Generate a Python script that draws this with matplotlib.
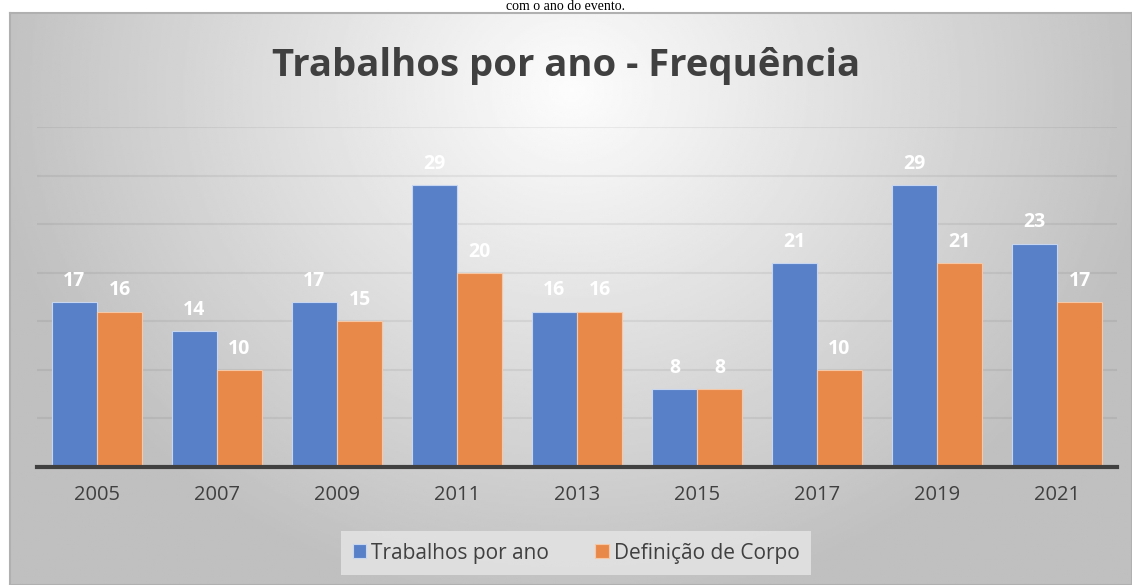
import numpy as np
import matplotlib.pyplot as plt

# data
anos = ['2005', '2007', '2009', '2011', '2013', '2015', '2017', '2019', '2021']
trabalhos = [17, 14, 17, 29, 16, 8, 21, 29, 23]
definicao = [16, 10, 15, 20, 16, 8, 10, 21, 17]

azul = '#5880C8'
laranja = '#E8894A'
cinza_txt = '#404040'

fig = plt.figure(figsize=(11.32, 5.85), dpi=100)

# caption from the page above the chart
fig.text(0.5, 1.0, 'com o ano do evento.', ha='center', va='top',
         family='Liberation Serif', fontsize=10, color='black')

# chart frame with radial gradient background
bg = fig.add_axes([10/1132, 0, 1 - 10/1132, 1 - 13/585])
yy, xx = np.mgrid[0:300, 0:600]
r = np.sqrt(((xx - 300) / 300.0) ** 2 + ((yy - 40) / 260.0) ** 2)
r = np.clip(r / 1.05, 0, 1)
shade = 0.99 - 0.24 * r
bg.imshow(shade, cmap='gray', vmin=0, vmax=1, aspect='auto', origin='upper',
          extent=[0, 1, 0, 1])
bg.set_xlim(0, 1)
bg.set_ylim(0, 1)
bg.set_xticks([])
bg.set_yticks([])
for s in bg.spines.values():
    s.set_color('#b0b0b0')
    s.set_linewidth(1.5)

ax = fig.add_axes([37/1132, 118/585, 1080/1132, 340/585])
ax.patch.set_alpha(0)
x = np.arange(len(anos))
w = 0.375
b1 = ax.bar(x - w/2, trabalhos, w, color=azul, edgecolor='#c8d6f0', linewidth=0.8, zorder=3)
b2 = ax.bar(x + w/2, definicao, w, color=laranja, edgecolor='#f5c9a8', linewidth=0.8, zorder=3)

for bars in (b1, b2):
    for b in bars:
        ax.annotate(str(int(b.get_height())), (b.get_x() + b.get_width()/2, b.get_height()),
                    xytext=(0, 8), textcoords='offset points', ha='center', va='bottom',
                    color='white', fontsize=14, fontweight='bold', family='Open Sans')

ax.set_xlim(-0.5, len(anos) - 0.5)
ax.set_ylim(0, 35)
ax.set_yticks(np.arange(5, 36, 5))
ax.yaxis.grid(True, color='black', alpha=0.06, linewidth=1.5, zorder=0)
ax.tick_params(axis='y', left=False, labelleft=False)
ax.tick_params(axis='x', length=0, pad=13, labelsize=14.5, labelcolor=cinza_txt)
ax.set_xticks(x)
ax.set_xticklabels(anos, family='Open Sans')
for s in ['top', 'right', 'left']:
    ax.spines[s].set_visible(False)
ax.spines['bottom'].set_color('#404040')
ax.spines['bottom'].set_linewidth(3)
ax.spines['bottom'].set_zorder(4)

fig.text(0.5, 1 - 66/585, 'Trabalhos por ano - Frequência', ha='center', va='center',
         fontsize=27.5, fontweight='bold', color=cinza_txt, family='Open Sans')

leg = fig.legend([b1, b2], ['Trabalhos por ano', 'Definição de Corpo'],
                 loc='center', bbox_to_anchor=(576/1132, 1 - 553/585), ncol=2,
                 frameon=True, fancybox=False, handlelength=0.65,
                 handleheight=0.65, handletextpad=0.25, columnspacing=2.2,
                 borderpad=0.55, borderaxespad=0, prop={'family': 'Open Sans', 'size': 15})
leg.get_frame().set_facecolor('#e2e2e2')
leg.get_frame().set_edgecolor('none')
leg.get_frame().set_alpha(0.9)
for t in leg.get_texts():
    t.set_color(cinza_txt)

fig.savefig('out.png', dpi=100)
